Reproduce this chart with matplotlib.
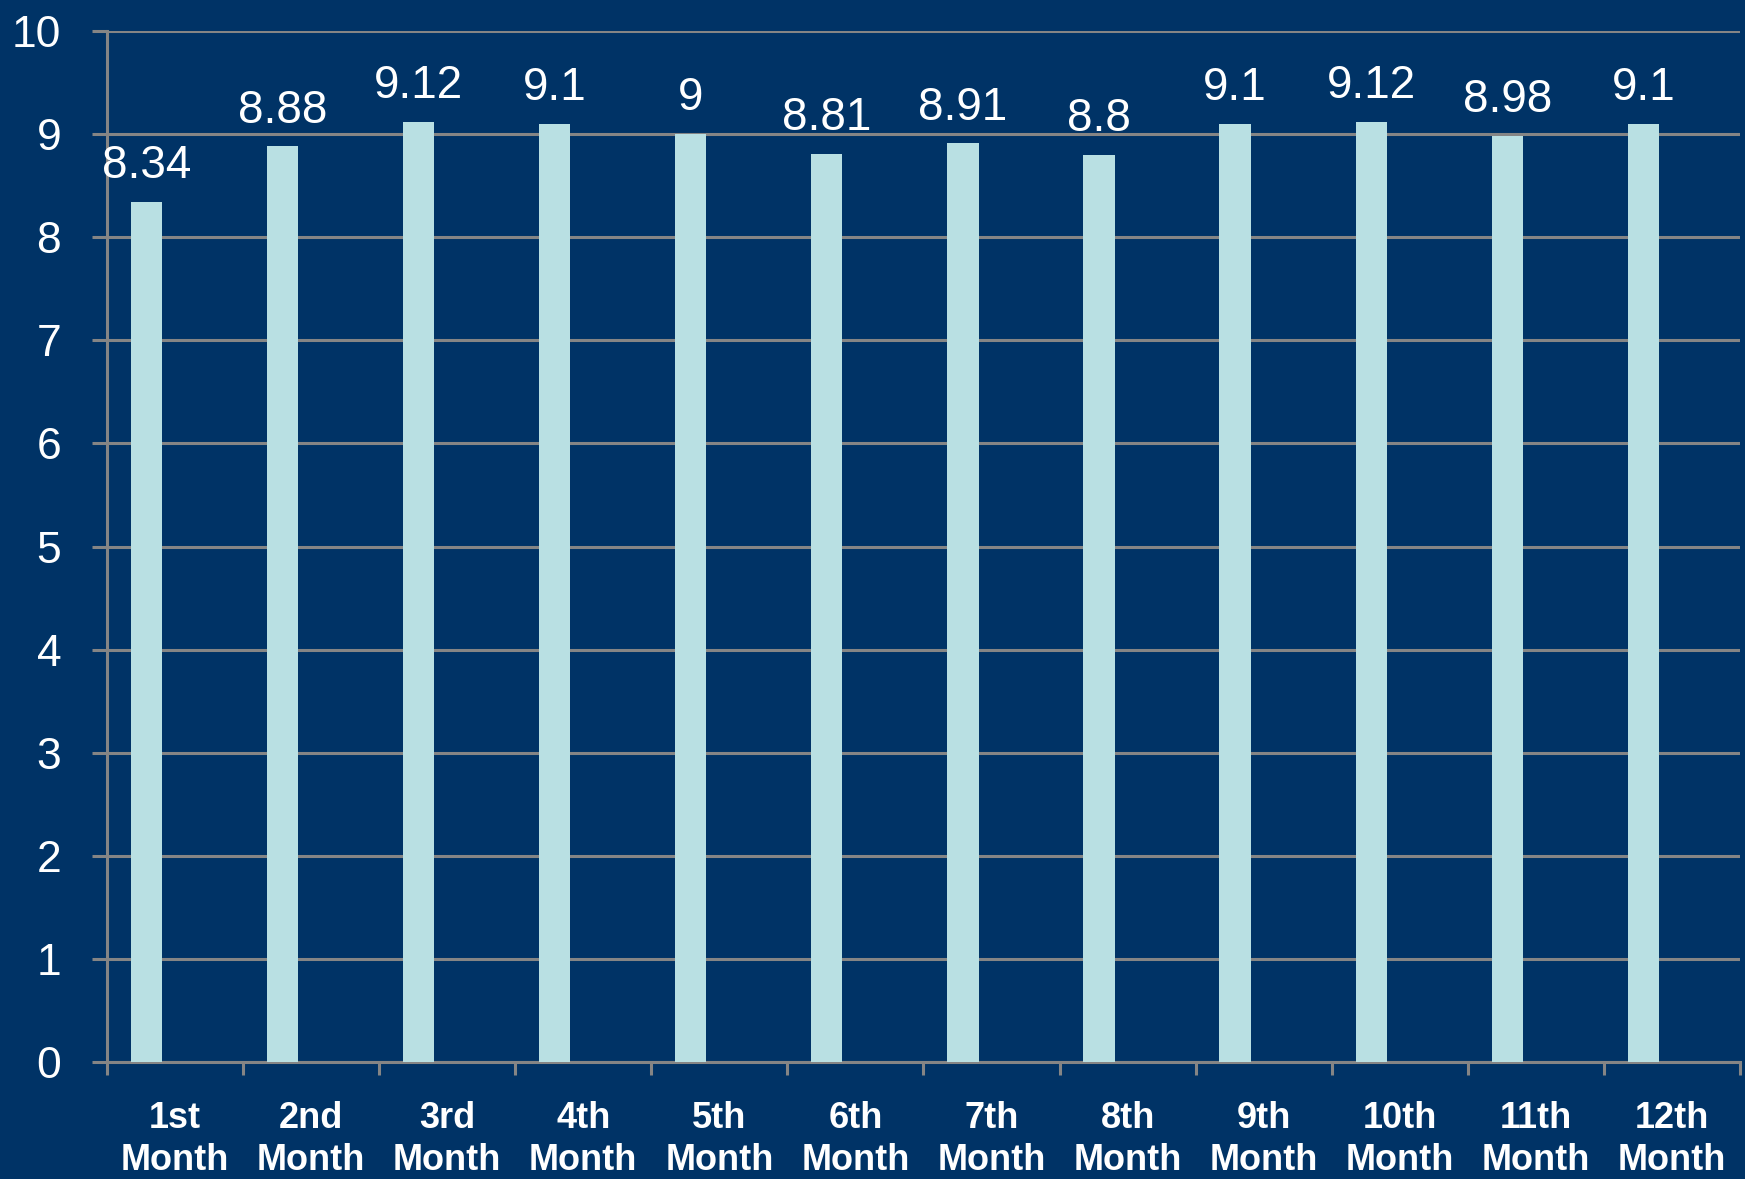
import numpy as np
import matplotlib
matplotlib.use("Agg")
import matplotlib.pyplot as plt

# Chart data
months = ["1st\nMonth", "2nd\nMonth", "3rd\nMonth", "4th\nMonth", "5th\nMonth", "6th\nMonth",
          "7th\nMonth", "8th\nMonth", "9th\nMonth", "10th\nMonth", "11th\nMonth", "12th\nMonth"]
scores = [8.34, 8.88, 9.12, 9.1, 9, 8.81, 8.91, 8.8, 9.1, 9.12, 8.98, 9.1]
y_ticks = [0, 1, 2, 3, 4, 5, 6, 7, 8, 9, 10]

bg = "#003366"
bar_color = "#B9E0E3"
grid_color = "#858585"
font_list = ["Liberation Sans", "DejaVu Sans"]

fig = plt.figure(figsize=(17.45, 11.79), dpi=100, facecolor=bg)
ax = fig.add_axes([0.0613, 0.0992, 0.9358, 0.8745], facecolor=bg)

x = np.arange(len(months))
bar_x = x - 0.21
ax.bar(bar_x, scores, width=0.23, color=bar_color, zorder=3)

# Value labels above bars
for bx, v in zip(bar_x, scores):
    ax.annotate("%g" % v, (bx, v), xytext=(0, 10), textcoords="offset points",
                ha="center", va="bottom", color="white", fontsize=33,
                family=font_list, zorder=4)

ax.set_xlim(-0.5, len(months) - 0.5)
ax.set_ylim(0, 10)

ax.set_yticks(y_ticks)
ax.set_yticklabels([str(t) for t in y_ticks], color="white", fontsize=32, family=font_list)
ax.tick_params(axis="y", length=11, width=2.2, color=grid_color, pad=22)

ax.set_xticks(x)
ax.set_xticklabels(months, color="white", fontsize=26, fontweight="bold",
                   family=font_list, linespacing=1.25)
ax.tick_params(axis="x", which="major", length=0, pad=28)
ax.set_xticks(np.arange(-0.5, len(months), 1.0), minor=True)
ax.tick_params(axis="x", which="minor", length=9, width=2.2, color=grid_color)

ax.grid(axis="y", color=grid_color, linewidth=2.2, zorder=1)
ax.set_axisbelow(True)

for side in ["top", "right"]:
    ax.spines[side].set_visible(False)
for side in ["left", "bottom"]:
    ax.spines[side].set_color(grid_color)
    ax.spines[side].set_linewidth(2.2)

fig.savefig("out.png", dpi=100, facecolor=bg)
